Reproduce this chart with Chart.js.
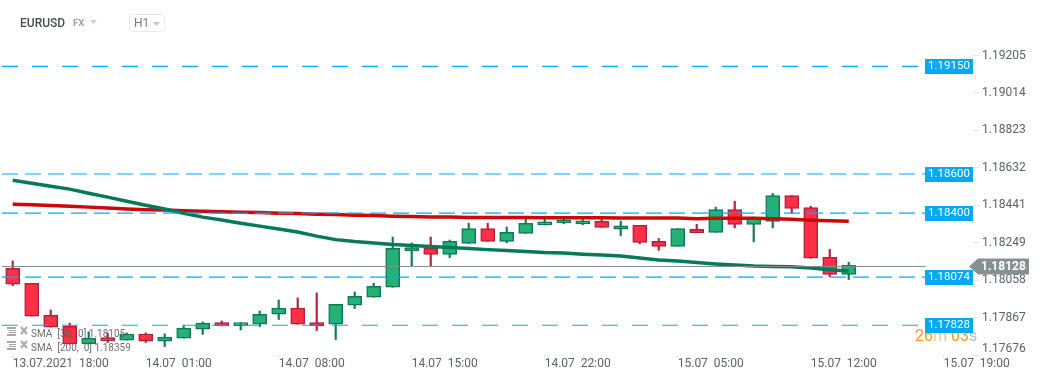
<!DOCTYPE html>
<html>
<head>
<meta charset="utf-8">
<title>EURUSD H1</title>
<script src="https://cdn.jsdelivr.net/npm/chart.js@4"></script>
<style>
  html, body { margin: 0; padding: 0; background: #fff; }
  #wrap { position: relative; width: 1041px; height: 380px; overflow: hidden; }
  canvas { position: absolute; left: 0; top: 0; }
</style>
</head>
<body>
<div id="wrap"><canvas id="chart" width="1041" height="380"></canvas></div>
<script>
// candles, one per hour, starting 13.07.2021 18:00
const opens = [1.18119,1.18042,1.17879,1.17823,1.17732,1.17765,1.17752,1.17783,1.17747,1.17762,1.17808,1.17842,1.17826,1.17833,1.17884,1.17915,1.17842,1.17833,1.17930,1.17971,1.18022,1.18207,1.18221,1.18190,1.18246,1.18322,1.18256,1.18297,1.18340,1.18350,1.18345,1.18358,1.18319,1.18338,1.18256,1.18231,1.18317,1.18302,1.18419,1.18343,1.18358,1.18490,1.18429,1.18175,1.18088];
const closes = [1.18037,1.17874,1.17818,1.17732,1.17762,1.17748,1.17783,1.17747,1.17767,1.17813,1.17839,1.17825,1.17841,1.17884,1.17915,1.17833,1.17825,1.17935,1.17976,1.18027,1.18221,1.18224,1.18190,1.18256,1.18322,1.18256,1.18302,1.18348,1.18356,1.18366,1.18361,1.18328,1.18336,1.18251,1.18231,1.18322,1.18300,1.18419,1.18343,1.18373,1.18490,1.18424,1.18170,1.18088,1.18134];
const highs = [1.18156,1.18042,1.17906,1.17839,1.17794,1.17788,1.17789,1.17789,1.17784,1.17825,1.17845,1.17850,1.17841,1.17901,1.17957,1.17967,1.17993,1.17935,1.17998,1.18042,1.18278,1.18248,1.18278,1.18263,1.18349,1.18349,1.18329,1.18375,1.18385,1.18375,1.18375,1.18381,1.18360,1.18338,1.18271,1.18322,1.18343,1.18431,1.18461,1.18380,1.18501,1.18490,1.18436,1.18215,1.18149];
const lows = [1.18030,1.17874,1.17818,1.17732,1.17732,1.17740,1.17752,1.17740,1.17719,1.17762,1.17781,1.17825,1.17804,1.17821,1.17857,1.17833,1.17801,1.17755,1.17913,1.17971,1.18022,1.18129,1.18130,1.18173,1.18246,1.18256,1.18249,1.18297,1.18340,1.18346,1.18341,1.18328,1.18285,1.18244,1.18210,1.18231,1.18300,1.18302,1.18325,1.18254,1.18325,1.18399,1.18170,1.18076,1.18061];

const sma30 = [1.18568,1.18553,1.18538,1.18523,1.18502,1.18482,1.18461,1.18441,1.18421,1.18400,1.18380,1.18365,1.18349,1.18334,1.18319,1.18304,1.18283,1.18265,1.18255,1.18248,1.18240,1.18235,1.18230,1.18225,1.18220,1.18214,1.18209,1.18204,1.18199,1.18197,1.18191,1.18186,1.18181,1.18171,1.18161,1.18156,1.18148,1.18141,1.18135,1.18130,1.18128,1.18126,1.18120,1.18111,1.18105];
const sma200 = [1.18446,1.18443,1.18439,1.18435,1.18431,1.18426,1.18422,1.18418,1.18416,1.18413,1.18410,1.18408,1.18405,1.18403,1.18400,1.18398,1.18395,1.18393,1.18390,1.18388,1.18385,1.18383,1.18380,1.18380,1.18378,1.18378,1.18378,1.18378,1.18377,1.18377,1.18377,1.18377,1.18376,1.18376,1.18376,1.18375,1.18372,1.18374,1.18374,1.18374,1.18372,1.18369,1.18364,1.18361,1.18359];

const levels = [1.19150, 1.18600, 1.18400, 1.18074, 1.17828];
const levelDash = [[16, 14], [16, 7], [16, 7], [16, 7], [16, 14]];
const lastPrice = 1.18128;

const yTicks = [1.19205, 1.19014, 1.18823, 1.18632, 1.18441, 1.18249, 1.18058, 1.17867, 1.17676];
const xTicks = [0, 7, 14, 21, 28, 35, 42, 49];
const xLabels = ['13.07.2021  18:00', '14.07  01:00', '14.07  08:00', '14.07  15:00', '14.07  22:00', '15.07  05:00', '15.07  12:00', '15.07  19:00'];

const RED = '#ff3045', RED_DARK = '#b3203a';
const GREEN = '#25b175', GREEN_DARK = '#0e7a57';
const CYAN = '#00aaff';
const FONT = 'Roboto, sans-serif';

const isUp = i => closes[i] >= opens[i];

// index range of the x axis, so the first candle sits a bit in from the left edge
const X_MIN = -0.668, X_MAX = 50.54;
const LINE_START = -0.563, LINE_END = 48.05;

const overlay = {
  id: 'overlay',
  afterDraw(chart) {
    const ctx = chart.ctx, y = chart.scales.y;
    ctx.save();

    // header
    ctx.textBaseline = 'middle';
    ctx.textAlign = 'left';
    ctx.fillStyle = '#434e54';
    ctx.font = '500 12px ' + FONT;
    ctx.fillText('EURUSD', 20, 23.5);
    ctx.fillStyle = '#93a5ae';
    ctx.font = '700 9.5px ' + FONT;
    ctx.fillText('FX', 73, 24);
    tri(ctx, 90, 20, 7, 4, '#cfcfcf');
    ctx.strokeStyle = '#e8e8e8';
    ctx.lineWidth = 1;
    ctx.beginPath();
    ctx.roundRect(129.5, 14.5, 35, 17, 3);
    ctx.stroke();
    ctx.fillStyle = '#7a7a7a';
    ctx.font = '12px ' + FONT;
    ctx.fillText('H1', 134, 23.5);
    tri(ctx, 153, 22, 7, 4, '#c4c4c4');

    // sma legend
    legendRow(ctx, 'SMA  [30,  0] 1.18105', 321);
    legendRow(ctx, 'SMA  [200,  0] 1.18359', 335);

    // countdown, the 1.17828 box covers its top
    ctx.font = '16px ' + FONT;
    ctx.textBaseline = 'middle';
    let tx = 915;
    [['26', '#f8981d'], ['m', '#f6c68c'], [' 03', '#f8981d'], ['s', '#b9b9b9']].forEach(p => {
      ctx.fillStyle = p[1];
      ctx.fillText(p[0], tx, 336.5);
      tx += ctx.measureText(p[0]).width;
    });

    // level boxes
    ctx.font = '11.5px ' + FONT;
    ctx.textAlign = 'center';
    levels.forEach(v => {
      const py = Math.round(y.getPixelForValue(v));
      ctx.fillStyle = '#03a9f4';
      ctx.fillRect(925, py - 7, 48, 15);
      ctx.fillStyle = '#fff';
      ctx.fillText(v.toFixed(5), 949, py + 0.5);
    });

    // last price tag
    const ly = y.getPixelForValue(lastPrice);
    ctx.fillStyle = '#879195';
    ctx.beginPath();
    ctx.moveTo(969, ly);
    ctx.lineTo(978, ly - 8);
    ctx.lineTo(1029, ly - 8);
    ctx.lineTo(1029, ly + 8);
    ctx.lineTo(978, ly + 8);
    ctx.closePath();
    ctx.fill();
    ctx.fillStyle = '#fff';
    ctx.font = '700 12px ' + FONT;
    ctx.textAlign = 'left';
    ctx.fillText(lastPrice.toFixed(5), 981, ly + 0.5);
    ctx.restore();
  }
};

function tri(ctx, x, y, w, h, color) {
  ctx.fillStyle = color;
  ctx.beginPath();
  ctx.moveTo(x, y);
  ctx.lineTo(x + w, y);
  ctx.lineTo(x + w / 2, y + h);
  ctx.closePath();
  ctx.fill();
}

function legendRow(ctx, text, top) {
  ctx.fillStyle = 'rgba(110,110,110,0.6)';
  // list icon
  ctx.fillRect(7, top + 6, 9, 2);
  ctx.fillRect(9, top + 9, 7, 1);
  ctx.fillRect(9, top + 11, 7, 1);
  ctx.fillRect(7, top + 13, 9, 2);
  // close icon
  ctx.strokeStyle = 'rgba(110,110,110,0.6)';
  ctx.lineWidth = 2;
  ctx.beginPath();
  ctx.moveTo(21, top + 6);
  ctx.lineTo(27, top + 13);
  ctx.moveTo(27, top + 6);
  ctx.lineTo(21, top + 13);
  ctx.stroke();
  ctx.font = '10px ' + FONT;
  ctx.textAlign = 'left';
  ctx.textBaseline = 'middle';
  ctx.fillStyle = 'rgba(85,85,85,0.85)';
  ctx.fillText(text, 31, top + 13);
}

const indexes = opens.map((_, i) => i);
const lineSpan = v => [{ x: LINE_START, y: v }, { x: LINE_END, y: v }];

const datasets = [
  // wicks behind the bodies
  {
    type: 'bar', order: 5, grouped: false, barThickness: 1.5,
    data: indexes.map(i => ({ x: i, y: [lows[i], highs[i]] })),
    backgroundColor: indexes.map(i => isUp(i) ? GREEN_DARK : RED_DARK),
    borderWidth: 0
  },
  {
    type: 'bar', order: 4, grouped: false, barThickness: 14,
    data: indexes.map(i => ({ x: i, y: [opens[i], closes[i]] })),
    backgroundColor: indexes.map(i => isUp(i) ? GREEN : RED),
    borderColor: indexes.map(i => isUp(i) ? GREEN_DARK : RED_DARK),
    borderWidth: 1.5,
    borderSkipped: false
  },
  {
    type: 'line', order: 3, data: indexes.map(i => ({ x: i, y: sma30[i] })),
    borderColor: '#047a58', borderWidth: 3.5, pointRadius: 0, tension: 0
  },
  {
    type: 'line', order: 3, data: indexes.map(i => ({ x: i, y: sma200[i] })),
    borderColor: '#cc0808', borderWidth: 3.5, pointRadius: 0, tension: 0
  },
  {
    type: 'line', order: 2, data: lineSpan(lastPrice),
    borderColor: '#7f8c8f', borderWidth: 1, pointRadius: 0
  }
];
levels.forEach((v, k) => {
  datasets.push({
    type: 'line', order: 1, data: lineSpan(v),
    borderColor: CYAN, borderWidth: 1.2, borderDash: levelDash[k], pointRadius: 0
  });
});

new Chart(document.getElementById('chart'), {
  data: { datasets },
  options: {
    responsive: false,
    animation: false,
    events: [],
    layout: { padding: 0, autoPadding: false },
    plugins: { legend: { display: false }, tooltip: { enabled: false } },
    scales: {
      x: {
        type: 'linear',
        offset: false, // bar charts switch this on, it would squeeze the hours
        min: X_MIN,
        max: X_MAX,
        grid: { display: true, offset: false, drawOnChartArea: false, color: '#e6e6e6', tickLength: 3 },
        border: { display: false },
        afterBuildTicks: s => { s.ticks = xTicks.map(v => ({ value: v })); },
        afterFit: s => {
          s.height = 25;
          s.paddingLeft = 0; s.paddingRight = 0;
        },
        ticks: {
          autoSkip: false,
          maxRotation: 0,
          align: 'start',
          padding: -1,
          color: '#5a6368',
          font: { family: FONT, size: 12 },
          callback: v => xLabels[xTicks.indexOf(v)]
        }
      },
      y: {
        type: 'linear',
        position: 'right',
        min: 1.17676,
        max: 1.194885,
        grid: { display: true, drawOnChartArea: false, color: '#e6e6e6', tickLength: 6 },
        border: { display: false },
        afterBuildTicks: s => { s.ticks = yTicks.map(v => ({ value: v })); },
        afterFit: s => {
          s.width = 68;
          s.paddingTop = 0; s.paddingBottom = 0;
        },
        ticks: {
          autoSkip: false,
          padding: 3,
          color: '#5a6368',
          font: { family: FONT, size: 12, lineHeight: 1 },
          // the bottom label is pushed up so it stays clear of the time axis
          callback: v => v === yTicks[yTicks.length - 1] ? [v.toFixed(5), ''] : v.toFixed(5)
        }
      }
    }
  },
  plugins: [overlay]
});
</script>
</body>
</html>
